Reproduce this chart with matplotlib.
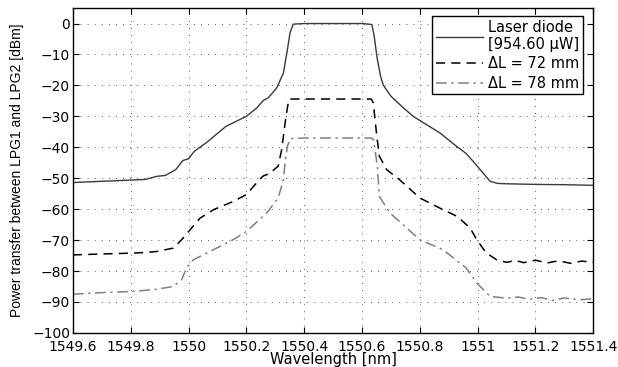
import matplotlib.pyplot as plt

plt.rcParams['font.family'] = ['DejaVu Sans']

# laser diode spectrum (solid)
wl_laser = [1549.6, 1549.7, 1549.8, 1549.85, 1549.89, 1549.92, 1549.956, 1549.98, 1550.0,
            1550.02, 1550.063, 1550.13, 1550.2, 1550.236, 1550.258, 1550.276, 1550.305,
            1550.328, 1550.342, 1550.351, 1550.362, 1550.4, 1550.5, 1550.6, 1550.634,
            1550.642, 1550.652, 1550.664, 1550.674, 1550.7, 1550.74, 1550.777, 1550.82,
            1550.87, 1550.927, 1550.96, 1550.984, 1551.014, 1551.043, 1551.07, 1551.1,
            1551.2, 1551.3, 1551.4]
p_laser = [-51.4, -51.0, -50.6, -50.4, -49.4, -49.1, -47.2, -44.3, -43.7,
           -41.3, -38.4, -33.2, -30.0, -27.3, -24.9, -24.0, -20.8,
           -16.0, -8.4, -3.0, -0.2, 0.0, 0.0, 0.0, -0.3,
           -4.0, -11.0, -17.0, -20.0, -23.5, -27.0, -30.0, -32.5,
           -35.4, -39.7, -42.0, -44.5, -47.8, -51.0, -51.7, -51.8,
           -52.0, -52.1, -52.3]

# transfer for delta L = 72 mm (dashed)
wl_72 = [1549.6, 1549.7, 1549.81, 1549.85, 1549.89, 1549.947, 1549.976, 1550.005,
         1550.04, 1550.086, 1550.155, 1550.2, 1550.24, 1550.258, 1550.28, 1550.31,
         1550.322, 1550.337, 1550.347, 1550.36, 1550.4, 1550.5, 1550.6, 1550.632,
         1550.639, 1550.65, 1550.66, 1550.685, 1550.73, 1550.755, 1550.8, 1550.87,
         1550.93, 1550.974, 1550.997, 1551.03, 1551.066, 1551.1, 1551.13, 1551.16,
         1551.2, 1551.24, 1551.28, 1551.32, 1551.36, 1551.4]
p_72 = [-74.8, -74.5, -74.2, -74.0, -73.7, -72.6, -69.9, -66.7,
        -62.9, -60.2, -57.5, -55.3, -51.0, -49.3, -48.5, -46.1,
        -40.8, -30.0, -24.5, -24.4, -24.4, -24.4, -24.4, -24.4,
        -25.6, -35.4, -42.9, -47.2, -50.5, -52.6, -56.4, -59.7,
        -62.4, -66.1, -69.9, -74.2, -76.4, -77.2, -76.6, -77.3,
        -76.5, -77.4, -76.7, -77.5, -76.8, -77.2]

# transfer for delta L = 78 mm (dash-dot)
wl_78 = [1549.6, 1549.7, 1549.81, 1549.89, 1549.947, 1549.976, 1549.993, 1550.016,
         1550.086, 1550.154, 1550.2, 1550.27, 1550.31, 1550.328, 1550.335, 1550.342,
         1550.351, 1550.4, 1550.5, 1550.6, 1550.632, 1550.64, 1550.653, 1550.66,
         1550.697, 1550.755, 1550.8, 1550.88, 1550.96, 1550.997, 1551.043, 1551.1,
         1551.14, 1551.18, 1551.22, 1551.26, 1551.3, 1551.35, 1551.4]
p_78 = [-87.5, -87.0, -86.6, -85.9, -85.0, -82.8, -79.0, -76.4,
        -73.1, -69.9, -67.2, -61.3, -56.4, -50.5, -44.0, -39.7,
        -37.2, -37.0, -37.0, -37.0, -37.0, -37.5, -46.2, -55.9,
        -61.3, -66.1, -69.9, -73.1, -79.0, -83.9, -88.2, -88.8,
        -88.4, -89.2, -88.6, -89.5, -88.7, -89.3, -89.0]

x_ticks = [1549.6, 1549.8, 1550, 1550.2, 1550.4, 1550.6, 1550.8, 1551, 1551.2, 1551.4]
x_labels = ['1549.6', '1549.8', '1550', '1550.2', '1550.4', '1550.6', '1550.8', '1551', '1551.2', '1551.4']
y_ticks = [0, -10, -20, -30, -40, -50, -60, -70, -80, -90, -100]

fig = plt.figure(figsize=(6.18, 3.67), dpi=100)
ax = fig.add_axes([0.118, 0.093, 0.842, 0.885])

ax.plot(wl_laser, p_laser, color='#3a3a3a', linewidth=1.0, label='Laser diode\n[954.60 \u00b5W]')
ax.plot(wl_72, p_72, color='black', linewidth=1.1, linestyle=(0, (6, 4)), label='\u0394L = 72 mm')
ax.plot(wl_78, p_78, color='#808080', linewidth=1.1, linestyle=(0, (7, 3, 1.5, 3)), label='\u0394L = 78 mm')

ax.set_xlim(1549.6, 1551.4)
ax.set_ylim(-100, 5)
ax.set_xticks(x_ticks)
ax.set_xticklabels(x_labels)
ax.set_yticks(y_ticks)
ax.grid(True, color='#222222', linestyle=(0, (1, 7.5)), linewidth=0.6)
ax.tick_params(direction='in', top=True, right=True, labelsize=10, length=4)
ax.tick_params(axis='x', pad=5)
ax.tick_params(axis='y', pad=2)
for s in ax.spines.values():
    s.set_linewidth(1.0)

ax.set_xlabel('Wavelength [nm]', fontsize=10.5, labelpad=-1)
ax.set_ylabel('Power transfer between LPG1 and LPG2 [dBm]', fontsize=10,
              family='Liberation Sans', labelpad=6)

leg = ax.legend(loc='upper right', bbox_to_anchor=(0.985, 0.985), fancybox=False,
                edgecolor='black', framealpha=1, fontsize=10.5, handlelength=3.2,
                labelspacing=0.3, borderpad=0.25, handletextpad=0.35, borderaxespad=0.2)
leg.get_frame().set_linewidth(1.0)

fig.savefig('out.png', dpi=100)
